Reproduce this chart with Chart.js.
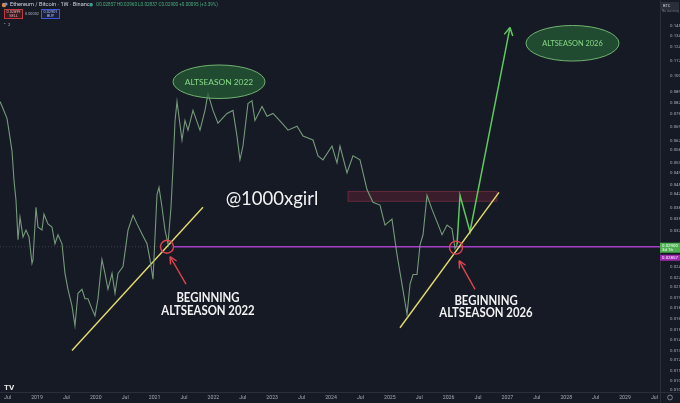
<!DOCTYPE html>
<html>
<head>
<meta charset="utf-8">
<script src="https://cdn.jsdelivr.net/npm/chart.js@4.4.1/dist/chart.umd.min.js"></script>
<style>
html,body{margin:0;padding:0;background:#161a25;overflow:hidden}
canvas{display:block}
</style>
</head>
<body>
<canvas id="grafico" width="680" height="403"></canvas>
<script>
// ETH/BTC weekly (decimal year, price)
const datas = [2018.371,2018.422,2018.490,2018.524,2018.575,2018.609,2018.643,2018.660,2018.677,2018.711,
  2018.762,2018.813,2018.864,2018.915,2018.932,2018.983,2019.017,2019.085,2019.119,2019.187,
  2019.255,2019.306,2019.357,2019.425,2019.476,2019.527,2019.595,2019.646,2019.697,2019.765,
  2019.816,2019.867,2019.935,2019.986,2020.037,2020.105,2020.156,2020.207,2020.276,2020.327,
  2020.378,2020.463,2020.548,2020.633,2020.701,2020.786,2020.871,2020.922,2020.973,2021.041,
  2021.075,2021.126,2021.177,2021.228,2021.279,2021.313,2021.347,2021.381,
  2021.466,2021.517,2021.568,2021.653,2021.772,2021.857,2021.908,2021.993,2022.078,2022.231,
  2022.333,2022.401,2022.452,2022.503,2022.588,2022.656,2022.707,2022.827,2022.912,2023.014,
  2023.167,2023.269,2023.422,2023.524,2023.694,2023.779,2023.864,2024.017,2024.102,2024.153,
  2024.272,2024.374,2024.493,2024.612,2024.714,2024.833,2024.918,2025.037,2025.122,2025.207,
  2025.293,2025.344,2025.395,2025.463,2025.514,2025.565,2025.633,2025.718,2025.803,2025.888,
  2025.973,2026.058,2026.109,2026.143]
const precos = [0.0830,0.0789,0.0734,0.0668,0.0578,0.0465,0.0402,0.0348,0.0301,0.0355,
  0.0307,0.0323,0.0307,0.0253,0.0260,0.0382,0.0330,0.0323,0.0363,0.0338,
  0.0330,0.0292,0.0312,0.0292,0.0235,0.0209,0.0185,0.0160,0.0203,0.0209,
  0.0195,0.0195,0.0181,0.0172,0.0195,0.0260,0.0235,0.0209,0.0235,0.0203,
  0.0235,0.0247,0.0323,0.0360,0.0338,0.0314,0.0292,0.0260,0.0225,0.0420,
  0.0442,0.0382,0.0323,0.0292,0.0382,0.0511,0.0718,0.0830,
  0.0626,0.0723,0.0673,0.0778,0.0673,0.0778,0.0880,0.0778,0.0708,0.0761,
  0.0778,0.0644,0.0541,0.0599,0.0818,0.0836,0.0723,0.0801,0.0745,0.0761,
  0.0708,0.0673,0.0693,0.0644,0.0626,0.0557,0.0541,0.0599,0.0529,0.0599,
  0.0492,0.0557,0.0541,0.0435,0.0396,0.0388,0.0335,0.0350,0.0270,0.0217,
  0.0174,0.0217,0.0233,0.0233,0.0290,0.0312,0.0417,0.0376,0.0343,0.0312,
  0.0335,0.0326,0.0282,0.0290]

// drawn lines
const suporte2022X = [2019.595, 2021.823]
const suporte2022Y = [0.01334, 0.0382]
const suporte2026X = [2025.173, 2026.857]
const suporte2026Y = [0.01576, 0.0426]
const projecaoX = [2026.143, 2026.194, 2026.364, 2027.044]
const projecaoY = [0.0290, 0.0417, 0.0319, 0.1431]
const nivel = 0.02857
const nivelInicio = 2021.313
const zonaX = [2024.289, 2026.823]
const zonaY = [0.0399, 0.0429]

// axes
const posicoesX = [2018.5,2019,2019.5,2020,2020.5,2021,2021.5,2022,2022.5,2023,2023.5,2024,2024.5,2025,2025.5,2026,2026.5,2027,2027.5,2028,2028.5,2029,2029.5]
const rotulosX = ['Jul','2019','Jul','2020','Jul','2021','Jul','2022','Jul','2023','Jul','2024','Jul','2025','Jul','2026','Jul','2027','Jul','2028','Jul','2029','Jul']
const ticksY = [0.14500,0.13400,0.12400,0.11200,0.10000,0.08900,0.08200,0.07600,0.06900,0.06200,0.05800,0.05300,
  0.04900,0.04500,0.04200,0.03800,0.03500,0.03200,0.02470,0.02280,0.02120,0.01960,0.01820,0.01680,
  0.01550,0.01440,0.01330,0.01240,0.01150,0.01070,0.01000]
const ultimoPreco = 0.02900

const ctx = document.getElementById('grafico')

const pontos = (xs, ys) => xs.map((x, i) => ({x: x, y: ys[i]}))

const px = (chart, x) => chart.scales.x.getPixelForValue(x)
const py = (chart, y) => chart.scales.y.getPixelForValue(y)

function seta(c, x1, y1, x2, y2, tam) {
  let ang = Math.atan2(y2 - y1, x2 - x1)
  c.beginPath()
  c.moveTo(x1, y1)
  c.lineTo(x2, y2)
  c.moveTo(x2, y2)
  c.lineTo(x2 - tam * Math.cos(ang - 0.45), y2 - tam * Math.sin(ang - 0.45))
  c.moveTo(x2, y2)
  c.lineTo(x2 - tam * Math.cos(ang + 0.45), y2 - tam * Math.sin(ang + 0.45))
  c.stroke()
}

// condensed bold caption (no narrow font installed, so squeeze Lato)
function textoEstreito(c, texto, x, y) {
  c.save()
  c.translate(x, y)
  c.scale(0.84, 1)
  c.fillText(texto, 0, 0)
  c.restore()
}

function elipse(chart, x0, x1, y0, y1, texto, tamFonte) {
  let c = chart.ctx
  let l = px(chart, x0), r = px(chart, x1), t = py(chart, y1), b = py(chart, y0)
  c.save()
  c.beginPath()
  c.ellipse((l + r) / 2, (t + b) / 2, (r - l) / 2, (b - t) / 2, 0, 0, Math.PI * 2)
  c.fillStyle = 'rgba(38,92,52,0.75)'
  c.fill()
  c.strokeStyle = '#6fb36f'
  c.lineWidth = 1
  c.stroke()
  c.fillStyle = '#86d986'
  c.font = tamFonte + 'px Lato'
  c.textAlign = 'center'
  c.textBaseline = 'middle'
  c.fillText(texto, (l + r) / 2, (t + b) / 2 + 0.5)
  c.restore()
}

const fundo = {
  id: 'fundo',
  beforeDraw(chart) {
    let c = chart.ctx
    c.save()
    c.fillStyle = '#161a25'
    c.fillRect(0, 0, chart.width, chart.height)
    c.restore()
  }
}

const desenhos = {
  id: 'desenhos',
  beforeDatasetsDraw(chart) {
    let c = chart.ctx
    let a = chart.chartArea
    c.save()
    // faint dotted level line across the chart
    c.strokeStyle = 'rgba(130,135,150,0.35)'
    c.setLineDash([1, 2])
    c.lineWidth = 1
    c.beginPath()
    c.moveTo(a.left, py(chart, nivel))
    c.lineTo(a.right, py(chart, nivel))
    c.stroke()
    c.setLineDash([])
    // resistance zone
    let zl = px(chart, zonaX[0]), zr = px(chart, zonaX[1])
    let zt = py(chart, zonaY[1]), zb = py(chart, zonaY[0])
    c.fillStyle = 'rgba(140,38,58,0.30)'
    c.fillRect(zl, zt, zr - zl, zb - zt)
    c.strokeStyle = 'rgba(170,60,80,0.45)'
    c.strokeRect(zl, zt, zr - zl, zb - zt)
    c.restore()
  },
  afterDatasetsDraw(chart) {
    let c = chart.ctx
    c.save()
    // arrow head of projection
    let n = projecaoX.length
    c.strokeStyle = '#5cc95c'
    c.lineWidth = 1.5
    let ax = px(chart, projecaoX[n - 1]), ay = py(chart, projecaoY[n - 1])
    let bx = px(chart, projecaoX[n - 2]), by = py(chart, projecaoY[n - 2])
    let ang = Math.atan2(ay - by, ax - bx)
    c.beginPath()
    c.moveTo(ax, ay)
    c.lineTo(ax - 9 * Math.cos(ang - 0.5), ay - 9 * Math.sin(ang - 0.5))
    c.moveTo(ax, ay)
    c.lineTo(ax - 9 * Math.cos(ang + 0.5), ay - 9 * Math.sin(ang + 0.5))
    c.stroke()

    // red circles and arrows
    c.strokeStyle = '#e0444e'
    c.lineWidth = 1.4
    c.beginPath()
    c.arc(px(chart, 2021.211), py(chart, nivel), 6.5, 0, Math.PI * 2)
    c.stroke()
    c.beginPath()
    c.arc(px(chart, 2026.126), py(chart, 0.0284), 6.5, 0, Math.PI * 2)
    c.stroke()
    seta(c, px(chart, 2021.534), py(chart, 0.0217), px(chart, 2021.262), py(chart, 0.0266), 8)
    seta(c, px(chart, 2026.449), py(chart, 0.0209), px(chart, 2026.177), py(chart, 0.0258), 8)

    // ellipses
    elipse(chart, 2021.313, 2022.878, 0.0849, 0.1086, 'ALTSEASON 2022', 8.4)
    elipse(chart, 2027.316, 2028.898, 0.1118, 0.1452, 'ALTSEASON 2026', 7.4)

    // texts
    c.fillStyle = '#f2f2f2'
    c.textAlign = 'center'
    c.textBaseline = 'middle'
    c.font = '18.5px Lato'
    c.fillText('@1000xgirl', px(chart, 2022.997), py(chart, 0.0405))
    c.font = 'bold 13.5px Lato'
    textoEstreito(c, 'BEGINNING', px(chart, 2021.908), py(chart, 0.0196))
    textoEstreito(c, 'ALTSEASON 2022', px(chart, 2021.908), py(chart, 0.01783))
    textoEstreito(c, 'BEGINNING', px(chart, 2026.636), py(chart, 0.01925))
    textoEstreito(c, 'ALTSEASON 2026', px(chart, 2026.636), py(chart, 0.01757))
    c.restore()
  },
  afterDraw(chart) {
    let c = chart.ctx
    let a = chart.chartArea
    c.save()
    // axis separators
    c.strokeStyle = '#2a2e39'
    c.lineWidth = 1
    c.beginPath()
    c.moveTo(a.right + 0.5, 0)
    c.lineTo(a.right + 0.5, chart.height)
    c.moveTo(0, a.bottom + 0.5)
    c.lineTo(chart.width, a.bottom + 0.5)
    c.stroke()

    // time labels, placed by the x scale
    c.fillStyle = '#a6a9b3'
    c.font = '5.2px Roboto'
    c.textAlign = 'center'
    c.textBaseline = 'middle'
    posicoesX.forEach((v, i) => {
      c.fillText(rotulosX[i], px(chart, v), a.bottom + 5.5)
    })

    // header
    c.textBaseline = 'middle'
    c.textAlign = 'left'
    c.fillStyle = '#e08a3c'
    c.beginPath(); c.arc(4, 5, 2.2, 0, Math.PI * 2); c.fill()
    c.fillStyle = '#7a8cd8'
    c.beginPath(); c.arc(6, 4, 1.6, 0, Math.PI * 2); c.fill()
    c.fillStyle = '#d1d4dc'
    c.font = '5.6px Roboto'
    c.fillText('Ethereum / Bitcoin · 1W · Binance', 10, 5)
    c.fillStyle = '#26a69a'
    c.beginPath(); c.arc(91, 5, 1.6, 0, Math.PI * 2); c.fill()
    c.fillStyle = '#4caf7d'
    c.font = '4.6px Roboto'
    c.fillText('O0.02857 H0.02960 L0.02837 C0.02900 +0.00095 (+3.39%)', 96, 5)

    c.fillStyle = '#3a1b22'
    c.fillRect(4, 9, 19, 10)
    c.strokeStyle = '#c0393f'
    c.strokeRect(4.5, 9.5, 18, 9)
    c.fillStyle = '#f0b0b0'
    c.textAlign = 'center'
    c.font = '3.8px Roboto'
    c.fillText('0.02899', 13.5, 12.5)
    c.fillText('SELL', 13.5, 16)
    c.fillStyle = '#b2b5be'
    c.fillText('0.00002', 32, 14)
    c.fillStyle = '#1b2040'
    c.fillRect(41, 9, 19, 10)
    c.strokeStyle = '#3d5ad6'
    c.strokeRect(41.5, 9.5, 18, 9)
    c.fillStyle = '#b0c0f0'
    c.fillText('0.02901', 50.5, 12.5)
    c.fillText('BUY', 50.5, 16)
    c.fillStyle = '#b2b5be'
    c.textAlign = 'left'
    c.font = '4.2px Roboto'
    c.fillText('⌃  2', 3, 25)

    // BTC box
    c.fillStyle = '#2a2e39'
    c.fillRect(661, 2, 18, 8)
    c.fillStyle = '#d1d4dc'
    c.font = '4px Roboto'
    c.fillText('BTC', 663, 6)
    c.fillStyle = '#787b86'
    c.font = '3.2px Roboto'
    c.fillText('No currency', 662, 11.5)

    // price labels on scale
    let yp = py(chart, ultimoPreco)
    c.fillStyle = '#4caf50'
    c.fillRect(660, yp - 2, 20, 10)
    c.fillStyle = '#ffffff'
    c.font = '4.4px Roboto'
    c.fillText(ultimoPreco.toFixed(5), 662, yp + 1)
    c.fillText('3d 1h', 662, yp + 5.5)
    let yn = py(chart, nivel) + 10
    c.fillStyle = '#9c27b0'
    c.fillRect(660, yn - 2, 20, 6)
    c.fillStyle = '#ffffff'
    c.fillText(nivel.toFixed(5), 662, yn + 1)

    // TV logo and gear
    c.fillStyle = '#e6e6e6'
    c.font = 'bold 8px Roboto'
    c.fillText('TV', 4, 388)
    c.strokeStyle = '#9598a1'
    c.lineWidth = 0.8
    c.beginPath(); c.arc(670, 397.5, 2.4, 0, Math.PI * 2); c.stroke()
    c.restore()
  }
}

let grafico = new Chart(ctx, {
  type: 'line',
  data: {
    datasets: [
      {
        label: 'ETH/BTC',
        data: pontos(datas, precos),
        borderColor: 'rgba(122,160,126,0.95)',
        borderWidth: 1.1,
        pointRadius: 0,
        tension: 0
      },
      {
        label: 'suporte 2022',
        data: pontos(suporte2022X, suporte2022Y),
        borderColor: '#e6dc6e',
        borderWidth: 1.4,
        pointRadius: 0
      },
      {
        label: 'suporte 2026',
        data: pontos(suporte2026X, suporte2026Y),
        borderColor: '#e6dc6e',
        borderWidth: 1.4,
        pointRadius: 0
      },
      {
        label: 'projecao',
        data: pontos(projecaoX, projecaoY),
        borderColor: '#5cc95c',
        borderWidth: 1.5,
        pointRadius: 0
      },
      {
        label: 'nivel',
        data: [{x: nivelInicio, y: nivel}, {x: 2029.595, y: nivel}],
        borderColor: '#a43fc4',
        borderWidth: 1.6,
        pointRadius: 0,
        order: 5
      }
    ]
  },
  options: {
    responsive: false,
    animation: false,
    devicePixelRatio: 1,
    layout: {padding: 0},
    plugins: {legend: {display: false}, tooltip: {enabled: false}},
    scales: {
      x: {
        type: 'linear',
        min: 2018.371,
        max: 2029.595,
        grid: {display: false},
        border: {display: false},
        afterFit: (s) => { s.height = 11 },
        ticks: {display: false}
      },
      y: {
        type: 'logarithmic',
        position: 'right',
        min: 0.00983,
        max: 0.1692,
        grid: {display: false},
        border: {display: false},
        afterBuildTicks: (s) => { s.ticks = ticksY.map(v => ({value: v})) },
        afterFit: (s) => { s.width = 20 },
        ticks: {
          autoSkip: false,
          padding: 2,
          color: '#a9acb6',
          font: {family: 'Roboto', size: 4.4},
          callback: (v) => Number(v).toFixed(5)
        }
      }
    }
  },
  plugins: [fundo, desenhos]
})
</script>
</body>
</html>
